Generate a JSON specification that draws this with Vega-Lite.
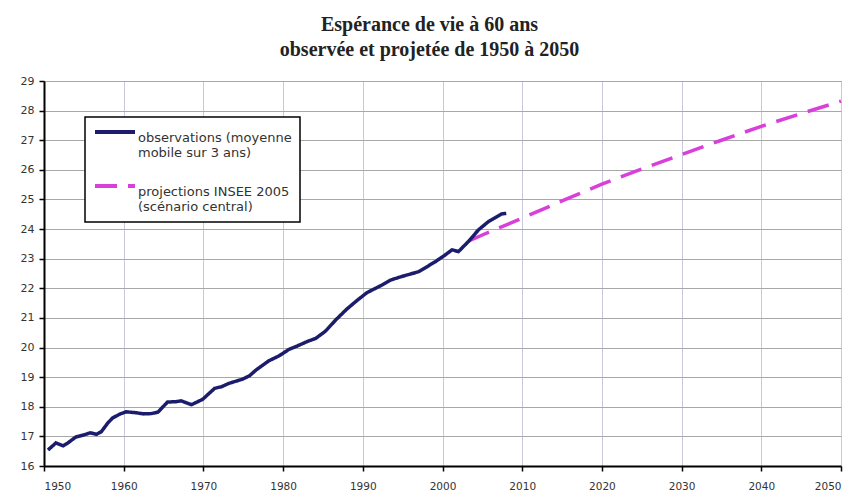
{
  "$schema": "https://vega.github.io/schema/vega-lite/v6.json",
  "width": 797,
  "height": 385,
  "autosize": "none",
  "padding": {"left": 44, "top": 81, "right": 15, "bottom": 27},
  "background": "white",
  "title": {
    "text": ["Espérance de vie à 60 ans", "observée et projetée de 1950 à 2050"],
    "font": "Liberation Serif",
    "fontSize": 20,
    "fontWeight": "bold",
    "color": "#222222",
    "lineHeight": 25,
    "anchor": "middle",
    "dx": -13,
    "offset": 15
  },
  "data": {
    "values": [
      {"year": 1950.5, "value": 16.54, "series": "observations"},
      {"year": 1951.5, "value": 16.78, "series": "observations"},
      {"year": 1952.4, "value": 16.68, "series": "observations"},
      {"year": 1953.0, "value": 16.78, "series": "observations"},
      {"year": 1954.0, "value": 16.98, "series": "observations"},
      {"year": 1955.0, "value": 17.05, "series": "observations"},
      {"year": 1955.8, "value": 17.12, "series": "observations"},
      {"year": 1956.6, "value": 17.07, "series": "observations"},
      {"year": 1957.2, "value": 17.16, "series": "observations"},
      {"year": 1958.0, "value": 17.45, "series": "observations"},
      {"year": 1958.6, "value": 17.62, "series": "observations"},
      {"year": 1959.5, "value": 17.75, "series": "observations"},
      {"year": 1960.3, "value": 17.83, "series": "observations"},
      {"year": 1961.5, "value": 17.8, "series": "observations"},
      {"year": 1962.5, "value": 17.76, "series": "observations"},
      {"year": 1963.5, "value": 17.77, "series": "observations"},
      {"year": 1964.3, "value": 17.82, "series": "observations"},
      {"year": 1965.5, "value": 18.16, "series": "observations"},
      {"year": 1966.5, "value": 18.17, "series": "observations"},
      {"year": 1967.2, "value": 18.2, "series": "observations"},
      {"year": 1968.5, "value": 18.07, "series": "observations"},
      {"year": 1969.9, "value": 18.25, "series": "observations"},
      {"year": 1971.4, "value": 18.62, "series": "observations"},
      {"year": 1972.3, "value": 18.68, "series": "observations"},
      {"year": 1973.2, "value": 18.79, "series": "observations"},
      {"year": 1974.9, "value": 18.93, "series": "observations"},
      {"year": 1975.8, "value": 19.05, "series": "observations"},
      {"year": 1976.6, "value": 19.24, "series": "observations"},
      {"year": 1978.2, "value": 19.55, "series": "observations"},
      {"year": 1979.5, "value": 19.72, "series": "observations"},
      {"year": 1980.75, "value": 19.94, "series": "observations"},
      {"year": 1981.75, "value": 20.05, "series": "observations"},
      {"year": 1983.0, "value": 20.2, "series": "observations"},
      {"year": 1984.1, "value": 20.31, "series": "observations"},
      {"year": 1985.3, "value": 20.55, "series": "observations"},
      {"year": 1986.6, "value": 20.93, "series": "observations"},
      {"year": 1988.0, "value": 21.3, "series": "observations"},
      {"year": 1989.1, "value": 21.55, "series": "observations"},
      {"year": 1990.5, "value": 21.85, "series": "observations"},
      {"year": 1992.4, "value": 22.11, "series": "observations"},
      {"year": 1993.5, "value": 22.28, "series": "observations"},
      {"year": 1994.9, "value": 22.4, "series": "observations"},
      {"year": 1997.0, "value": 22.56, "series": "observations"},
      {"year": 1998.0, "value": 22.72, "series": "observations"},
      {"year": 1999.1, "value": 22.9, "series": "observations"},
      {"year": 2000.2, "value": 23.1, "series": "observations"},
      {"year": 2001.2, "value": 23.3, "series": "observations"},
      {"year": 2002.0, "value": 23.24, "series": "observations"},
      {"year": 2003.25, "value": 23.58, "series": "observations"},
      {"year": 2004.5, "value": 23.97, "series": "observations"},
      {"year": 2005.75, "value": 24.25, "series": "observations"},
      {"year": 2007.4, "value": 24.51, "series": "observations"},
      {"year": 2008.0, "value": 24.53, "series": "observations"},
      {"year": 2003.3, "value": 23.6, "series": "projections"},
      {"year": 2005, "value": 23.8, "series": "projections"},
      {"year": 2010, "value": 24.37, "series": "projections"},
      {"year": 2015, "value": 24.95, "series": "projections"},
      {"year": 2020, "value": 25.52, "series": "projections"},
      {"year": 2025, "value": 26.03, "series": "projections"},
      {"year": 2030, "value": 26.52, "series": "projections"},
      {"year": 2035, "value": 27.0, "series": "projections"},
      {"year": 2040, "value": 27.47, "series": "projections"},
      {"year": 2045, "value": 27.9, "series": "projections"},
      {"year": 2050, "value": 28.32, "series": "projections"}
    ]
  },
  "encoding": {
    "x": {
      "field": "year", "type": "quantitative",
      "scale": {"domain": [1950, 2050], "nice": false, "zero": false},
      "axis": {
        "title": null,
        "values": [1950, 1960, 1970, 1980, 1990, 2000, 2010, 2020, 2030, 2040, 2050],
        "format": "d",
        "gridColor": "#c8c8de",
        "labelPadding": 10,
        "labelFontSize": 10.5
      }
    },
    "y": {
      "field": "value", "type": "quantitative",
      "scale": {"domain": [16, 29], "nice": false, "zero": false},
      "axis": {
        "title": null,
        "values": [16, 17, 18, 19, 20, 21, 22, 23, 24, 25, 26, 27, 28, 29],
        "gridColor": "#a8a8a8",
        "labelPadding": 5
      }
    },
    "color": {
      "field": "series", "type": "nominal",
      "scale": {"domain": ["observations", "projections"], "range": ["#1c1c6c", "#d93fd9"]},
      "legend": {
        "title": null,
        "orient": "none",
        "legendX": 41,
        "legendY": 36,
        "labelExpr": "datum.label == 'observations' ? ['observations (moyenne', 'mobile sur 3 ans)'] : ['projections INSEE 2005', '(scénario central)']"
      }
    },
    "strokeDash": {
      "field": "series", "type": "nominal",
      "scale": {"domain": ["observations", "projections"], "range": [[1, 0], [22, 11]]},
      "legend": {
        "title": null,
        "orient": "none",
        "legendX": 41,
        "legendY": 36,
        "labelExpr": "datum.label == 'observations' ? ['observations (moyenne', 'mobile sur 3 ans)'] : ['projections INSEE 2005', '(scénario central)']"
      }
    }
  },
  "layer": [
    {
      "transform": [{"filter": "datum.series == 'projections'"}],
      "mark": {"type": "line", "strokeWidth": 3.5}
    },
    {
      "transform": [{"filter": "datum.series == 'observations'"}],
      "mark": {"type": "line", "strokeWidth": 3.5}
    }
  ],
  "config": {
    "view": {"stroke": "#666666", "strokeWidth": 1},
    "axis": {
      "domainColor": "#000000",
      "domainWidth": 2,
      "tickColor": "#000000",
      "tickSize": 5,
      "tickWidth": 1.5,
      "labelFont": "DejaVu Sans",
      "labelFontSize": 11,
      "labelColor": "#333333",
      "gridWidth": 1
    },
    "legend": {
      "strokeColor": "#000000",
      "strokeWidth": 1.5,
      "fillColor": "#ffffff",
      "padding": 8,
      "symbolType": "M-1,0H7",
      "symbolSize": 100,
      "symbolStrokeWidth": 4,
      "labelFont": "DejaVu Sans",
      "labelFontSize": 13,
      "labelColor": "#333333",
      "labelLimit": 400,
      "labelOffset": 31,
      "rowPadding": 18,
      "labelBaseline": "top"
    }
  }
}
